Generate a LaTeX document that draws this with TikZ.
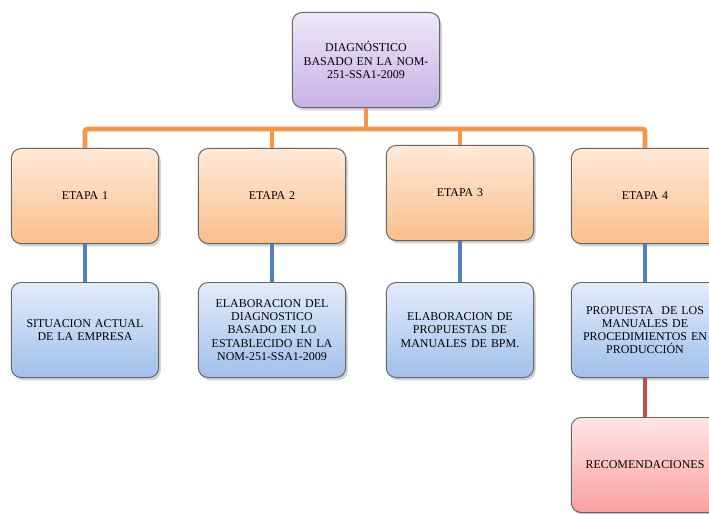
\documentclass[tikz,border=0pt]{standalone}
\usepackage{fontspec}
\setmainfont{Liberation Serif}
\usetikzlibrary{shadows, positioning}
\definecolor{lilaTop}{RGB}{238,232,248}
\definecolor{lilaBot}{RGB}{198,178,230}
\definecolor{naranjaTop}{RGB}{255,234,216}
\definecolor{naranjaBot}{RGB}{250,190,140}
\definecolor{azulTop}{RGB}{226,236,250}
\definecolor{azulBot}{RGB}{160,192,236}
\definecolor{rojoTop}{RGB}{255,230,230}
\definecolor{rojoBot}{RGB}{250,160,160}
\definecolor{lineaNaranja}{RGB}{247,150,70}
\definecolor{lineaAzul}{RGB}{79,129,189}
\definecolor{lineaRoja}{RGB}{192,80,77}

\begin{document}
\begin{tikzpicture}[x=0.025cm, y=-0.025cm,
  caja/.style={draw=black!60, line width=0.7pt, rounded corners=7pt,
    minimum width=3.625cm, minimum height=2.375cm, text width=3.45cm, align=center,
    font=\fontsize{8.5}{9.35}\selectfont,
    drop shadow={opacity=0.35, shadow xshift=1.5pt, shadow yshift=-2pt}},
  diag/.style={caja, top color=lilaTop, bottom color=lilaBot},
  etapa/.style={caja, top color=naranjaTop, bottom color=naranjaBot},
  accion/.style={caja, top color=azulTop, bottom color=azulBot},
  recom/.style={caja, top color=rojoTop, bottom color=rojoBot},
  con/.style={line width=3.5pt, rounded corners=2pt}]
  \useasboundingbox (0,0) rectangle (709,513);
  % nivel superior
  \node[diag] (diag) at (366,60) {DIAGNÓSTICO\\BASADO EN LA NOM-\\251-SSA1-2009};
  % etapas
  \node[etapa] (e1) at (85,196) {ETAPA 1};
  \node[etapa] (e2) at (272,196) {ETAPA 2};
  \node[etapa] (e3) at (460,193) {ETAPA 3};
  \node[etapa] (e4) at (645,196) {ETAPA 4};
  % acciones
  \node[accion] (a1) at (85,330) {SITUACION ACTUAL\\DE LA EMPRESA};
  \node[accion] (a2) at (272,330) {ELABORACION DEL\\DIAGNOSTICO\\BASADO EN LO\\ESTABLECIDO EN LA\\NOM-251-SSA1-2009};
  \node[accion] (a3) at (460,330) {ELABORACION DE\\PROPUESTAS DE\\MANUALES DE BPM.};
  \node[accion] (a4) at (645,330) {PROPUESTA\ \ DE LOS\\MANUALES DE\\PROCEDIMIENTOS EN\\PRODUCCIÓN};
  \node[recom] (r4) at (645,465) {RECOMENDACIONES};
  % conectores
  \coordinate (bus) at (366,129);
  \draw[con, lineaNaranja] (diag.south) -- (bus);
  \draw[con, lineaNaranja] (e1.north) |- (bus) -| (e4.north);
  \draw[con, lineaNaranja] (e2.north) -- (e2.north |- bus);
  \draw[con, lineaNaranja] (e3.north) -- (e3.north |- bus);
  \draw[con, lineaAzul] (e1) -- (a1);
  \draw[con, lineaAzul] (e2) -- (a2);
  \draw[con, lineaAzul] (e3) -- (a3);
  \draw[con, lineaAzul] (e4) -- (a4);
  \draw[con, lineaRoja] (a4) -- (r4);
\end{tikzpicture}
\end{document}
